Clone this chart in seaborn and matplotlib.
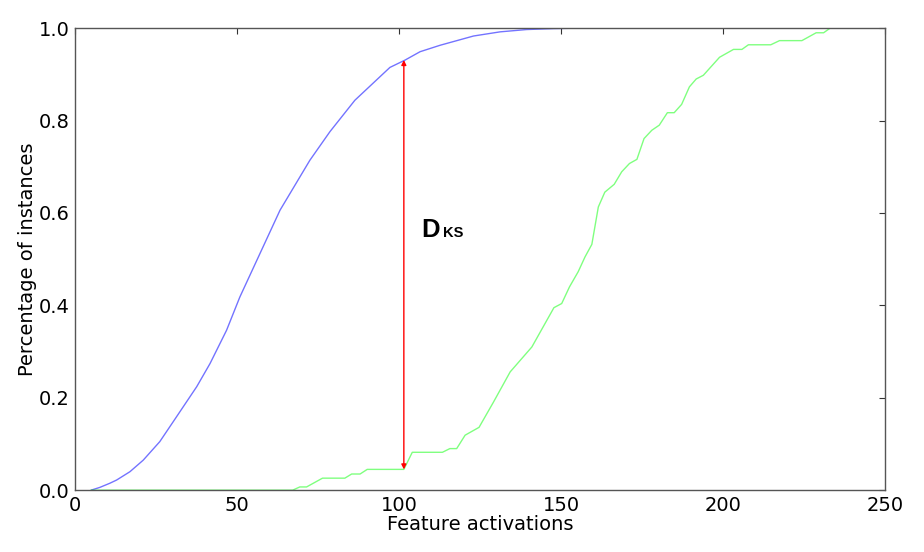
import matplotlib
matplotlib.use("Agg")
import matplotlib.pyplot as plt
import seaborn as sns
import pandas as pd

# Blue CDF (all instances)
blue_x = [5, 7.7, 10.8, 12.9, 17, 21.1, 26.2, 31, 37.6, 41.7, 46.8, 50.9, 57.1,
          63.3, 72.5, 78.7, 86.4, 97.2, 101.9, 106.5, 112.7, 123, 131.2, 139.4,
          147.6, 155, 165]
blue_y = [0, 0.006, 0.015, 0.022, 0.04, 0.065, 0.105, 0.155, 0.224, 0.274, 0.346,
          0.418, 0.512, 0.606, 0.714, 0.776, 0.844, 0.915, 0.931, 0.949, 0.963,
          0.983, 0.992, 0.997, 0.999, 1.0, 1.0]

# Green CDF (selected instances)
green_x = [5, 67.2, 69.4, 71.5, 76.4, 83.3, 85.4, 88, 90.2, 101.5, 104.1, 113.4,
           115.7, 117.8, 120.4, 124.7, 129.1, 134.3, 141, 147.8, 150.2, 152.6,
           155.3, 157.4, 159.5, 161.5, 163.5, 166.4, 168.7, 171.1, 173.4, 175.6,
           178, 180.3, 182.8, 184.9, 187.2, 189.6, 191.7, 193.9, 198.9, 203.2,
           205.8, 207.8, 214.7, 217.4, 224.3, 228.7, 231, 233]
green_y = [0, 0, 0.007, 0.007, 0.026, 0.026, 0.035, 0.035, 0.045, 0.045, 0.082,
           0.082, 0.09, 0.09, 0.119, 0.136, 0.19, 0.256, 0.31, 0.395, 0.404, 0.44,
           0.473, 0.505, 0.532, 0.613, 0.645, 0.662, 0.689, 0.707, 0.716, 0.761,
           0.779, 0.79, 0.817, 0.817, 0.835, 0.873, 0.89, 0.898, 0.937, 0.954,
           0.954, 0.964, 0.964, 0.973, 0.973, 0.99, 0.99, 1.0]

ks_x = 101.5
ks_low = 0.045
ks_high = 0.931

x_ticks = [0, 50, 100, 150, 200, 250]
y_ticks = [0.0, 0.2, 0.4, 0.6, 0.8, 1.0]

sns.set_style("white")
plt.rcParams['font.family'] = ['DejaVu Sans']
plt.rcParams['text.color'] = 'black'
plt.rcParams['axes.labelcolor'] = 'black'

fig = plt.figure(figsize=(9.24, 5.52), dpi=100)
ax = fig.add_axes([0.081, 0.112, 0.877, 0.837])

blue_df = pd.DataFrame({"x": blue_x, "y": blue_y})
green_df = pd.DataFrame({"x": green_x, "y": green_y})
sns.lineplot(data=blue_df, x="x", y="y", ax=ax, color="#0000ff", alpha=0.55,
             lw=1.0, sort=False, estimator=None)
sns.lineplot(data=green_df, x="x", y="y", ax=ax, color="#00ff00", alpha=0.5,
             lw=1.0, sort=False, estimator=None)

ax.annotate("", xy=(ks_x, ks_low), xytext=(ks_x, ks_high),
            arrowprops=dict(arrowstyle="<|-|>", color="red", lw=1.0,
                            mutation_scale=7, shrinkA=0, shrinkB=0))
ax.text(107.0, 0.547, "D", fontsize=18.5, fontweight="bold", color="black",
        family="Liberation Sans", va="baseline", ha="left")
ax.text(113.6, 0.547, "KS", fontsize=10.5, fontweight="bold", color="black",
        family="Liberation Sans", va="baseline", ha="left")

ax.set_xlim(0, 250)
ax.set_ylim(0, 1.0)
ax.set_xticks(x_ticks)
ax.set_yticks(y_ticks)
ax.set_xticklabels([str(v) for v in x_ticks])
ax.set_yticklabels([f"{v:.1f}" for v in y_ticks])
ax.tick_params(direction="in", length=4, width=0.8, top=True, right=True,
               labelsize=14, colors="#333333", labelcolor="black", pad=4)
for s in ax.spines.values():
    s.set_color("#555555")
    s.set_linewidth(1.0)
ax.set_xlabel("Feature activations", fontsize=14, labelpad=0)
ax.set_ylabel("Percentage of instances", fontsize=14, labelpad=1)

fig.savefig("out.png", dpi=100)
